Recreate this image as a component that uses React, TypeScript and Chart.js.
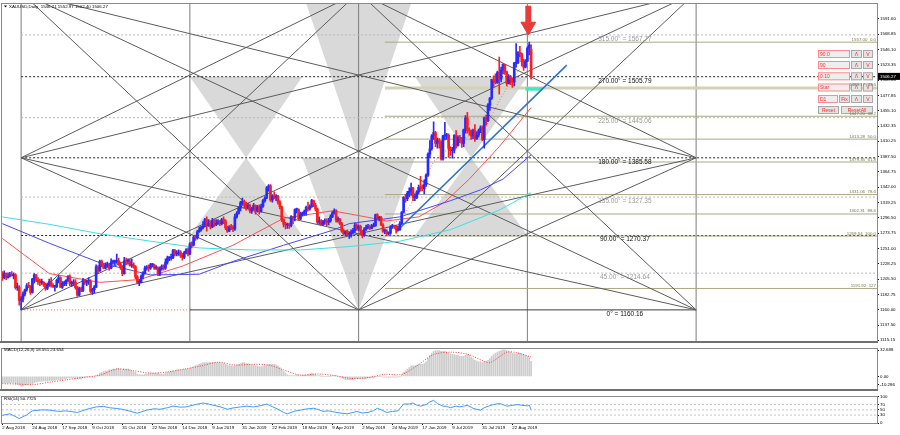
import React, { useEffect, useRef } from "react";
import { Chart, registerables } from "chart.js";
Chart.register(...registerables);

const FONT = "'Liberation Sans', Arial, sans-serif";

// ---------------- data ----------------
const DATE_LABELS = ["2 Aug 2018","24 Aug 2018","17 Sep 2018","9 Oct 2018","31 Oct 2018","22 Nov 2018","14 Dec 2018","9 Jan 2019","31 Jan 2019","22 Feb 2019","18 Mar 2019","9 Apr 2019","2 May 2019","24 May 2019","17 Jun 2019","9 Jul 2019","31 Jul 2019","22 Aug 2019"];
const DATE_BARS = [0,16,32,48,64,80,96,112,128,144,160,176,192,208,224,240,256,272];

const OPEN = [1216,1208,1214,1208,1210,1213,1211,1212,1193,1194,
1174,1176,1184,1190,1196,1195,1186,1206,1212,1204,
1202,1201,1201,1198,1192,1197,1202,1196,1195,1195,
1204,1208,1194,1199,1199,1204,1209,1199,1200,1201,
1193,1182,1192,1189,1204,1201,1202,1203,1188,1190,
1194,1224,1218,1232,1226,1222,1227,1227,1222,1231,
1231,1232,1233,1228,1223,1214,1233,1232,1232,1226,
1227,1224,1209,1201,1201,1210,1215,1222,1223,1222,
1227,1227,1222,1222,1214,1221,1225,1222,1231,1237,
1237,1237,1248,1243,1244,1246,1241,1238,1245,1249,
1243,1258,1256,1268,1267,1276,1279,1282,1284,1294,
1285,1289,1283,1293,1287,1288,1291,1288,1294,1292,
1282,1277,1283,1282,1280,1298,1303,1311,1319,1321,
1317,1311,1315,1307,1310,1315,1307,1313,1306,1314,
1322,1326,1341,1344,1323,1329,1327,1329,1320,1313,
1294,1287,1286,1286,1285,1298,1297,1309,1309,1295,
1302,1302,1306,1312,1310,1313,1322,1315,1310,1290,
1292,1287,1291,1291,1290,1292,1298,1304,1307,1293,
1295,1288,1277,1273,1276,1272,1272,1275,1278,1286,
1280,1284,1277,1271,1280,1282,1284,1281,1284,1285,
1301,1296,1297,1286,1277,1277,1273,1274,1283,1285,
1284,1279,1279,1288,1305,1327,1325,1333,1336,1341,
1327,1327,1335,1342,1341,1340,1346,1360,1391,1399,
1418,1423,1407,1412,1409,1384,1418,1418,1419,1400,
1396,1397,1419,1404,1416,1414,1407,1427,1445,1426,
1425,1418,1426,1414,1419,1426,1430,1413,1445,1441,
1464,1474,1502,1500,1497,1512,1502,1516,1524,1513,
1496,1506,1502,1498,1526,1527,1542,1540,1528,1520,
1529,1548,1546];
const HIGH = [1217,1218,1215,1215,1216,1217,1215,1214,1200,1196,
1180,1187,1191,1199,1201,1196,1207,1214,1213,1208,
1206,1206,1202,1200,1200,1206,1208,1199,1196,1206,
1211,1209,1202,1203,1205,1211,1212,1203,1205,1205,
1195,1194,1194,1207,1206,1204,1208,1205,1192,1196,
1227,1226,1234,1234,1229,1230,1231,1229,1236,1234,
1234,1243,1237,1231,1226,1238,1237,1236,1235,1236,
1230,1226,1211,1205,1212,1217,1225,1226,1227,1229,
1229,1228,1226,1224,1224,1227,1227,1236,1240,1239,
1243,1250,1250,1248,1249,1248,1244,1247,1251,1252,
1260,1261,1270,1271,1278,1283,1284,1291,1296,1298,
1294,1291,1296,1294,1294,1294,1293,1296,1298,1294,
1284,1285,1287,1285,1302,1306,1313,1321,1326,1323,
1320,1318,1317,1312,1318,1316,1315,1316,1317,1324,
1328,1343,1346,1346,1331,1335,1331,1330,1322,1314,
1295,1290,1289,1289,1300,1299,1310,1311,1310,1305,
1305,1308,1314,1320,1316,1324,1323,1318,1311,1298,
1294,1293,1295,1295,1296,1301,1306,1310,1309,1298,
1296,1290,1280,1277,1279,1275,1279,1281,1289,1288,
1286,1286,1278,1282,1286,1287,1286,1287,1289,1302,
1303,1299,1299,1288,1280,1279,1276,1285,1287,1286,
1286,1284,1291,1306,1328,1331,1336,1341,1348,1342,
1332,1337,1345,1358,1345,1353,1362,1393,1411,1420,
1439,1425,1415,1414,1411,1419,1438,1422,1421,1402,
1401,1420,1426,1418,1419,1416,1428,1448,1453,1430,
1427,1428,1435,1424,1428,1433,1433,1446,1449,1466,
1475,1502,1507,1510,1514,1535,1520,1525,1524,1514,
1509,1508,1504,1527,1555,1543,1551,1541,1532,1531,
1550,1557,1553];
const LOW = [1204,1206,1205,1207,1209,1210,1206,1191,1189,1167,
1160,1172,1181,1188,1193,1183,1185,1200,1202,1198,
1196,1198,1195,1189,1190,1195,1194,1193,1188,1193,
1200,1193,1192,1196,1196,1202,1196,1195,1196,1191,
1180,1181,1187,1187,1198,1196,1198,1185,1183,1185,
1193,1214,1217,1224,1221,1221,1223,1219,1221,1228,
1226,1229,1226,1220,1211,1213,1227,1228,1225,1223,
1222,1206,1199,1196,1200,1206,1213,1219,1217,1220,
1224,1220,1220,1211,1211,1219,1219,1220,1228,1233,
1234,1236,1240,1240,1241,1238,1234,1236,1243,1240,
1242,1252,1255,1263,1265,1275,1277,1280,1283,1277,
1284,1280,1282,1284,1285,1287,1285,1286,1288,1279,
1275,1276,1279,1276,1278,1296,1302,1307,1316,1311,
1308,1310,1304,1303,1309,1302,1305,1302,1305,1312,
1320,1325,1336,1321,1320,1325,1322,1317,1310,1291,
1283,1280,1281,1281,1283,1288,1292,1304,1293,1294,
1299,1300,1300,1307,1308,1312,1313,1307,1288,1287,
1285,1285,1287,1285,1286,1290,1297,1302,1290,1290,
1286,1275,1271,1270,1270,1266,1268,1273,1275,1278,
1278,1271,1267,1269,1278,1280,1279,1280,1283,1284,
1294,1292,1285,1275,1273,1270,1271,1272,1281,1281,
1274,1277,1278,1287,1304,1320,1322,1328,1330,1322,
1322,1325,1332,1336,1337,1332,1343,1358,1386,1397,
1413,1402,1400,1400,1382,1382,1412,1413,1386,1389,
1385,1393,1400,1403,1408,1401,1402,1422,1422,1419,
1413,1414,1410,1413,1416,1423,1411,1400,1434,1439,
1456,1472,1490,1495,1496,1480,1498,1510,1509,1492,
1495,1494,1490,1492,1520,1525,1535,1522,1515,1519,
1528,1538,1502];
const CLOSE = [1208,1214,1208,1210,1213,1211,1212,1193,1194,1174,
1176,1184,1190,1196,1195,1186,1206,1212,1204,1202,
1201,1201,1198,1192,1197,1202,1196,1195,1195,1204,
1208,1194,1199,1199,1204,1209,1199,1200,1201,1193,
1182,1192,1189,1204,1201,1202,1203,1188,1190,1194,
1224,1218,1232,1226,1222,1227,1227,1222,1231,1231,
1232,1233,1228,1223,1214,1233,1232,1232,1226,1227,
1224,1209,1201,1201,1210,1215,1222,1223,1222,1227,
1227,1222,1222,1214,1221,1225,1222,1231,1237,1237,
1237,1248,1243,1244,1246,1241,1238,1245,1249,1243,
1258,1256,1268,1267,1276,1279,1282,1284,1294,1285,
1289,1283,1293,1287,1288,1291,1288,1294,1292,1282,
1277,1283,1282,1280,1298,1303,1311,1319,1321,1317,
1311,1315,1307,1310,1315,1307,1313,1306,1314,1322,
1326,1341,1344,1323,1329,1327,1329,1320,1313,1294,
1287,1286,1286,1285,1298,1297,1309,1309,1295,1302,
1302,1306,1312,1310,1313,1322,1315,1310,1290,1292,
1287,1291,1291,1290,1292,1298,1304,1307,1293,1295,
1288,1277,1273,1276,1272,1272,1275,1278,1286,1280,
1284,1277,1271,1280,1282,1284,1281,1284,1285,1301,
1296,1297,1286,1277,1277,1273,1274,1283,1285,1284,
1279,1279,1288,1305,1327,1325,1333,1336,1341,1327,
1327,1335,1342,1341,1340,1346,1360,1391,1399,1418,
1423,1407,1412,1409,1384,1418,1418,1419,1400,1396,
1397,1419,1404,1416,1414,1407,1427,1445,1426,1425,
1418,1426,1414,1419,1426,1430,1413,1445,1441,1464,
1474,1502,1500,1497,1512,1502,1516,1524,1513,1496,
1506,1502,1498,1526,1527,1542,1540,1528,1520,1529,
1548,1553,1506];

// moving averages: [bar, price]
const MA_CYAN = [[0,1298],[25,1287],[52,1273],[79,1262],[105,1252],[132,1249],[159,1249],[185,1254],[212,1262],[239,1279],[265,1308],[282,1334]];
const MA_BLUE = [[0,1288],[25,1259],[52,1230],[79,1212],[105,1213],[123,1232],[150,1256],[176,1278],[185,1288],[212,1298],[239,1322],[255,1338],[267,1354],[282,1390]];
const MA_RED = [[0,1266],[25,1214],[52,1201],[73,1205],[96,1225],[123,1256],[150,1296],[176,1307],[190,1300],[205,1292],[222,1298],[236,1320],[249,1354],[265,1402],[282,1460]];
const MA_RED_DOT = [[205,1280],[214,1300],[222,1335],[230,1380],[240,1405],[250,1420],[258,1432],[265,1470],[272,1503],[278,1525],[282,1535]];
const TREND_BLUE = [[210,1276],[301,1523]];

// Gann grid
const GANN_BARS = [10,100,190,280,370];
const GANN_LEVELS = [1160.16,1214.64,1270.37,1327.35,1385.58,1445.06,1505.79,1567.77];
const GANN_TEXT = ["0° = 1160.16","45.00° = 1214.64","90.00° = 1270.37","135.00° = 1327.35","180.00° = 1385.58","225.00° = 1445.06","270.00° = 1505.79","315.00° = 1567.77"];
const GANN_LABEL_BAR = 332;
const FAN_LINES = [
  [10,1630.9,190,1160.16],[10,1630.9,370,1160.16],[10,1630.9,370,1385.58],
  [10,1385.58,190,1630.9],[10,1385.58,370,1630.9],[10,1385.58,190,1160.16],[10,1385.58,370,1160.16],
  [10,1160.16,190,1630.9],[10,1160.16,370,1630.9],[10,1160.16,370,1385.58],
  [370,1630.9,190,1160.16],[370,1385.58,190,1160.16],[370,1160.16,190,1630.9],[370,1385.58,190,1630.9]
];
const TRIANGLES = [
  [[100,1505.79],[160,1505.79],[130,1385.58]],
  [[130,1385.58],[100,1270.37],[160,1270.37]],
  [[160,1630.9],[220,1630.9],[190,1385.58]],
  [[160,1385.58],[220,1385.58],[190,1160.16]],
  [[220,1505.79],[280,1505.79],[250,1385.58]],
  [[250,1385.58],[220,1270.37],[280,1270.37]]
];

// Fibonacci
const FIB_START = 204;
const FIB_LEVELS = [1557.00,1489.17,1447.20,1413.28,1379.35,1331.06,1302.31,1269.54,1191.92];
const FIB_TEXT = ["1557.00  0.0","1489.17  23.6","1447.20  38.2","1413.28  50.0","1379.35  61.8","1331.06  78.6","1302.31  88.6","1269.54  100.0","1191.92  127"];

const PRICE_TICKS = [1591.60,1568.85,1546.10,1523.35,1500.60,1477.85,1455.10,1432.35,1410.25,1387.50,1364.75,1342.00,1319.25,1296.50,1273.75,1251.00,1228.25,1205.50,1182.75,1160.00,1137.50,1115.15];
const LAST_PRICE = 1506.27;
const HEADER = "XAUUSD,Daily  1546.21 1552.97 1502.40 1506.27";

// MACD
const MACD_MAIN = [-8,-8,-8,-8,-8,-8,-8,-9,-10,-11,
-12,-12,-11,-11,-10,-10,-9,-8,-7,-7,
-6,-6,-6,-6,-6,-5,-5,-5,-5,-4,
-4,-4,-4,-3,-3,-2,-2,-2,-2,-3,
-3,-3,-3,-2,-2,-1,-1,-1,-1,-1,
1,2,4,5,6,7,7,8,8,9,
9,10,10,9,8,9,9,9,8,7,
6,5,3,2,2,2,3,3,3,4,
4,4,4,4,3,3,3,4,5,5,
6,7,7,8,8,8,8,9,9,9,
10,11,12,13,14,15,16,17,17,17,
17,17,17,17,17,17,17,16,16,15,
14,13,13,12,13,14,15,16,17,17,
16,16,15,14,14,13,13,12,12,12,
13,14,15,15,15,15,14,13,11,8,
6,4,2,1,1,1,1,2,2,1,
2,2,2,3,3,4,3,3,1,1,
0,0,0,0,0,0,1,1,1,0,
-1,-2,-3,-4,-4,-4,-4,-4,-3,-3,
-3,-3,-3,-3,-3,-2,-2,-2,-2,0,
0,0,0,-1,-1,-1,-2,-1,-1,-1,
-1,-1,0,2,5,7,9,11,13,13,
13,14,15,15,15,16,18,22,26,29,
31,32,32,32,31,31,31,30,29,28,
27,27,26,26,25,25,25,26,27,26,
24,22,20,19,18,18,17,18,19,20,
22,25,27,29,30,31,32,33,33,32,
31,30,29,28,28,29,29,28,27,26,
25,23,18.6];
const MACD_SIGNAL = [[0,-9],[8,-9.5],[16,-10.3],[26,-7],[35,-4],[44,-1],[52,1.5],[61,9],[70,7],[79,4],[88,5.5],[97,9],[106,13],[115,17.5],[124,14],[133,15],[142,14],[150,8],[159,1.5],[168,3],[177,1],[186,-2.5],[195,-1.5],[204,2.5],[213,2.5],[221,13],[230,27],[239,30],[248,27.5],[257,18.6],[260,17],[265,24],[269,30],[274,29.5],[282,24]];
const MACD_TICKS = [32.688,0,-10.286];
const MACD_TICK_TEXT = ["32.688","0.00","-10.286"];

// RSI
const RSI = [[0,29],[4,35],[9,17],[13,31],[16,46],[21,50],[25,49],[30,44],[34,46],[40,40],[45,52],[50,61],[54,63],[57,58],[61,55],[64,52],[68,45],[72,37],[77,49],[81,54],[84,52],[88,58],[91,64],[95,60],[98,61],[103,70],[107,76],[110,72],[112,68],[116,62],[120,52],[123,57],[127,61],[130,64],[134,61],[138,66],[141,72],[144,62],[147,52],[150,40],[152,35],[156,45],[159,49],[162,53],[166,56],[169,50],[171,44],[174,46],[176,43],[180,38],[184,35],[187,40],[189,44],[192,38],[195,40],[198,47],[200,56],[202,50],[205,40],[208,44],[211,46],[214,72],[217,72],[219,76],[221,68],[223,64],[226,70],[228,80],[230,86],[232,74],[235,64],[237,63],[239,58],[242,64],[244,61],[246,64],[248,67],[250,60],[251,56],[253,52],[255,49],[257,58],[260,66],[262,70],[265,74],[267,70],[269,64],[271,66],[273,68],[275,70],[277,67],[280,65],[281,68],[282,51]];
const RSI_LEVELS = [70,50,30];
const RSI_TICKS = [100,70,50,30,0];

// ---------------- scales ----------------
const X_MIN = -0.2;
const X_MAX = 466.47;
const Y_MIN = 1113.5;
const Y_MAX = 1614.1;

const BULL = "#2a2aff";
const BEAR = "#ff1c1c";

const pts = (arr: number[][]) => arr.map(([x, y]) => ({ x, y }));
const seg = (x1: number, y1: number, x2: number, y2: number) => [{ x: x1, y: y1 }, { x: x2, y: y2 }];
function line(data: any[], color: string, width: number, dash: number[], order: number, extra: any = {}) {
  return { type: "line", data, borderColor: color, borderWidth: width, borderDash: dash, pointRadius: 0, fill: false, tension: 0, order, ...extra };
}

function xAxis(show: boolean) {
  const ax: any = {
    type: "linear", min: X_MIN, max: X_MAX, offset: false, display: show, position: "bottom",
    afterBuildTicks: (s: any) => { s.ticks = DATE_BARS.map((v) => ({ value: v })); },
    ticks: { callback: (_v: any, i: number) => DATE_LABELS[i], align: "start", maxRotation: 0, minRotation: 0, autoSkip: false, font: { size: 4.4, family: FONT }, color: "#000", padding: 0 },
    grid: { drawOnChartArea: false, drawTicks: true, tickLength: 2, color: "#000" },
    border: { display: true, color: "#7a7a7a" },
  };
  if (show) ax.afterFit = (s: any) => { s.height = 12; };
  return ax;
}
function yAxis(min: number, max: number, ticks: number[], labels: string[]) {
  return {
    type: "linear", position: "right", min, max,
    afterFit: (s: any) => { s.width = 23; },
    afterBuildTicks: (s: any) => { s.ticks = ticks.map((v) => ({ value: v })); },
    ticks: { callback: (_v: any, i: number) => labels[i], font: { size: 4.4, family: FONT }, color: "#000", padding: 1, autoSkip: false, maxRotation: 0 },
    grid: { drawOnChartArea: false, drawTicks: true, tickLength: 2, color: "#000" },
    border: { display: true, color: "#7a7a7a" },
  };
}
const base = (padding: any) => ({
  responsive: false, animation: false, devicePixelRatio: 1, events: [],
  layout: { padding, autoPadding: false },
  plugins: { legend: { display: false }, tooltip: { enabled: false } },
});

function frame(chart: any, thickBottom: boolean) {
  const { ctx, chartArea: a } = chart;
  ctx.save();
  ctx.strokeStyle = "#8a8a8a";
  ctx.lineWidth = 1;
  ctx.strokeRect(Math.round(a.left) - 0.5, Math.round(a.top) - 0.5, Math.round(a.right - a.left) + 1, Math.round(a.bottom - a.top) + 1);
  if (thickBottom) {
    ctx.fillStyle = "#707070";
    ctx.fillRect(0, Math.round(a.bottom), a.right + 1, 2);
  }
  ctx.restore();
}

function drawButton(ctx: any, x: number, y: number, w: number, h: number, text: string, field: boolean) {
  ctx.fillStyle = field ? "#eeeeee" : "#e4e4e4";
  ctx.fillRect(x, y, w, h);
  ctx.strokeStyle = field ? "#ff8c8c" : "#a8a8a8";
  ctx.lineWidth = 1;
  ctx.strokeRect(x + 0.5, y + 0.5, w - 1, h - 1);
  ctx.fillStyle = "#ff2a2a";
  ctx.font = `5px ${FONT}`;
  ctx.textBaseline = "middle";
  ctx.textAlign = field ? "left" : "center";
  ctx.fillText(text, field ? x + 2 : x + w / 2, y + h / 2 + 0.3);
}

const mainOverlay = {
  id: "mainOverlay",
  afterDatasetsDraw(chart: any) {
    const { ctx, chartArea: a, scales } = chart;
    const x = scales.x, y = scales.y;
    ctx.save();
    ctx.font = `6.5px ${FONT}`;
    ctx.textAlign = "center";
    ctx.textBaseline = "middle";
    GANN_LEVELS.forEach((lv, i) => {
      ctx.fillStyle = i % 2 === 0 ? "#111" : "#9a9a9a";
      ctx.fillText(GANN_TEXT[i], x.getPixelForValue(GANN_LABEL_BAR), y.getPixelForValue(lv) + 4);
    });
    const rows = [50, 61, 72.3, 83.5, 95, 106];
    ["90.0", "90", "0.10", "Star"].forEach((t, i) => {
      drawButton(ctx, 818, rows[i], 32, 8, t, true);
      drawButton(ctx, 851, rows[i], 11, 8, "\u039b", false);
      drawButton(ctx, 863, rows[i], 10, 8, "V", false);
    });
    drawButton(ctx, 818, rows[4], 20, 8, "D1", true);
    drawButton(ctx, 839, rows[4], 11, 8, "Fix", false);
    drawButton(ctx, 851, rows[4], 11, 8, "\u039b", false);
    drawButton(ctx, 863, rows[4], 10, 8, "V", false);
    drawButton(ctx, 818, rows[5], 21, 8, "Reset", false);
    drawButton(ctx, 841, rows[5], 32, 8, "ResetAll", false);
    ctx.font = `4.4px ${FONT}`;
    ctx.textAlign = "right";
    ctx.textBaseline = "bottom";
    ctx.fillStyle = "#77774a";
    FIB_LEVELS.forEach((lv, i) => ctx.fillText(FIB_TEXT[i], a.right - 1, y.getPixelForValue(lv) - 0.5));
    ctx.restore();
  },
  afterDraw(chart: any) {
    const { ctx, chartArea: a, scales } = chart;
    frame(chart, true);
    ctx.save();
    const py = scales.y.getPixelForValue(LAST_PRICE);
    ctx.fillStyle = "#000";
    ctx.fillRect(a.right + 1, py - 3.5, 22, 7);
    ctx.fillStyle = "#fff";
    ctx.font = `4.4px ${FONT}`;
    ctx.textAlign = "left";
    ctx.textBaseline = "middle";
    ctx.fillText(LAST_PRICE.toFixed(2), a.right + 3, py);
    ctx.fillStyle = "#000";
    ctx.beginPath();
    ctx.moveTo(4, 5.5); ctx.lineTo(7, 5.5); ctx.lineTo(5.5, 7.5); ctx.closePath(); ctx.fill();
    ctx.fillText(HEADER, 9, 6.5);
    ctx.restore();
  },
};

const macdOverlay = {
  id: "macdOverlay",
  afterDraw(chart: any) {
    frame(chart, true);
    const { ctx } = chart;
    ctx.save();
    ctx.fillStyle = "#000";
    ctx.font = `4.4px ${FONT}`;
    ctx.textBaseline = "middle";
    ctx.fillText("MACD(12,26,9) 18.551 23.654", 4, 5);
    ctx.restore();
  },
};
const rsiOverlay = {
  id: "rsiOverlay",
  afterDraw(chart: any) {
    frame(chart, false);
    const { ctx } = chart;
    ctx.save();
    ctx.fillStyle = "#000";
    ctx.font = `4.4px ${FONT}`;
    ctx.textBaseline = "middle";
    ctx.fillText("RSI(14) 50.7725", 4, 5.5);
    ctx.restore();
  },
};

function mainConfig(): any {
  const ds: any[] = [];
  TRIANGLES.forEach((t) => ds.push({ type: "line", data: pts([...t, t[0]]), borderWidth: 0, borderColor: "rgba(0,0,0,0)", backgroundColor: "#d9d9d9", fill: "shape", pointRadius: 0, tension: 0, order: 40 }));
  GANN_BARS.forEach((b) => ds.push(line(seg(b, Y_MIN, b, Y_MAX), "#7c7c7c", 1, [], 38)));
  GANN_LEVELS.forEach((lv, i) => {
    if (i === 0) return;
    ds.push(line(seg(GANN_BARS[0], lv, X_MAX, lv), i % 2 === 0 ? "#262626" : "#b8b8b8", 1, [2, 2], 36));
  });
  ds.push(line(seg(GANN_BARS[0], GANN_LEVELS[0], GANN_BARS[1], GANN_LEVELS[0]), "#ff5a5a", 1, [1, 2], 36));
  ds.push(line(seg(GANN_BARS[1], GANN_LEVELS[0], GANN_BARS[4], GANN_LEVELS[0]), "#3c3c3c", 1, [], 36));
  FIB_LEVELS.forEach((lv, i) => ds.push(line(seg(FIB_START, lv, X_MAX, lv), i === 1 ? "#d2d2b4" : "#a9a985", i === 1 ? 3 : 1, [], 35)));
  FAN_LINES.forEach(([x1, y1, x2, y2]) => ds.push(line(seg(x1, y1, x2, y2), "#5c5c5c", 1, [], 30)));
  ds.push(line(pts(MA_CYAN), "#3fe0e0", 1, [], 20));
  ds.push(line(pts(MA_BLUE), "#4848ff", 1, [], 20));
  ds.push(line(pts(MA_RED), "#ff5050", 1, [], 20));
  ds.push(line(pts(MA_RED_DOT), "#ff6a6a", 1, [1, 2], 19));
  ds.push(line(pts(TREND_BLUE), "#2f74c8", 1.6, [], 18));
  ds.push(line(seg(279, 1487.4, 288, 1487.4), "#45e6c4", 3.5, [], 18));
  ds.push({
    type: "bar", grouped: false, order: 5, barThickness: 1,
    data: HIGH.map((h, i) => ({ x: i, y: [LOW[i], h] })),
    backgroundColor: (c: any) => (CLOSE[c.dataIndex] >= OPEN[c.dataIndex] ? BULL : BEAR),
  });
  ds.push({
    type: "bar", grouped: false, order: 4, barThickness: 2, minBarLength: 1,
    data: OPEN.map((o, i) => ({ x: i, y: [o, CLOSE[i]] })),
    backgroundColor: (c: any) => (CLOSE[c.dataIndex] >= OPEN[c.dataIndex] ? BULL : BEAR),
  });
  ds.push(line(seg(280.5, 1611, 280.5, 1586), "#ea3b3b", 6, [], 2));
  ds.push({ type: "line", data: [{ x: 280.5, y: 1580.3 }], pointStyle: "triangle", rotation: 180, pointRadius: 8.5, pointBackgroundColor: "#ea3b3b", pointBorderColor: "#ea3b3b", showLine: false, order: 1 });

  return {
    type: "bar",
    data: { datasets: ds },
    options: {
      ...base({ left: 2, top: 3, right: 0, bottom: 1 }),
      scales: { x: xAxis(false), y: yAxis(Y_MIN, Y_MAX, PRICE_TICKS, PRICE_TICKS.map((v) => v.toFixed(2))) },
    },
    plugins: [mainOverlay],
  };
}

function macdConfig(): any {
  return {
    type: "bar",
    data: {
      datasets: [
        { type: "line", data: pts(MACD_SIGNAL), borderColor: "#ff3a3a", borderWidth: 1, borderDash: [1, 1.5], pointRadius: 0, tension: 0.3, fill: false, order: 1 },
        { type: "bar", data: MACD_MAIN.map((v, i) => ({ x: i, y: v })), backgroundColor: "#cdcdcd", barThickness: 1, grouped: false, order: 2 },
      ],
    },
    options: {
      ...base({ left: 2, top: 1, right: 0, bottom: 0 }),
      scales: { x: xAxis(false), y: yAxis(-16.1, 34.4, MACD_TICKS, MACD_TICK_TEXT) },
    },
    plugins: [macdOverlay],
  };
}

function rsiConfig(): any {
  const ds: any[] = RSI_LEVELS.map((lv) => line(seg(X_MIN, lv, X_MAX, lv), "#c4c4c4", 1, [2, 2], 5));
  ds.push(line(pts(RSI), "#3d9cff", 1, [], 1));
  return {
    type: "line",
    data: { datasets: ds },
    options: {
      ...base({ left: 2, top: 2, right: 0, bottom: 0 }),
      scales: { x: xAxis(true), y: yAxis(0, 100, RSI_TICKS, RSI_TICKS.map(String)) },
    },
    plugins: [rsiOverlay],
  };
}

export default function App() {
  const mainRef = useRef<HTMLCanvasElement>(null);
  const macdRef = useRef<HTMLCanvasElement>(null);
  const rsiRef = useRef<HTMLCanvasElement>(null);
  useEffect(() => {
    const charts = [
      new Chart(mainRef.current as HTMLCanvasElement, mainConfig()),
      new Chart(macdRef.current as HTMLCanvasElement, macdConfig()),
      new Chart(rsiRef.current as HTMLCanvasElement, rsiConfig()),
    ];
    return () => charts.forEach((c) => c.destroy());
  }, []);
  return (
    <div style={{ position: "fixed", left: 0, top: 0, width: 900, height: 435, background: "#fff", overflow: "hidden" }}>
      <canvas ref={mainRef} width={900} height={345} style={{ position: "absolute", left: 0, top: 0 }} />
      <canvas ref={macdRef} width={900} height={48} style={{ position: "absolute", left: 0, top: 345 }} />
      <canvas ref={rsiRef} width={900} height={42} style={{ position: "absolute", left: 0, top: 393 }} />
    </div>
  );
}
